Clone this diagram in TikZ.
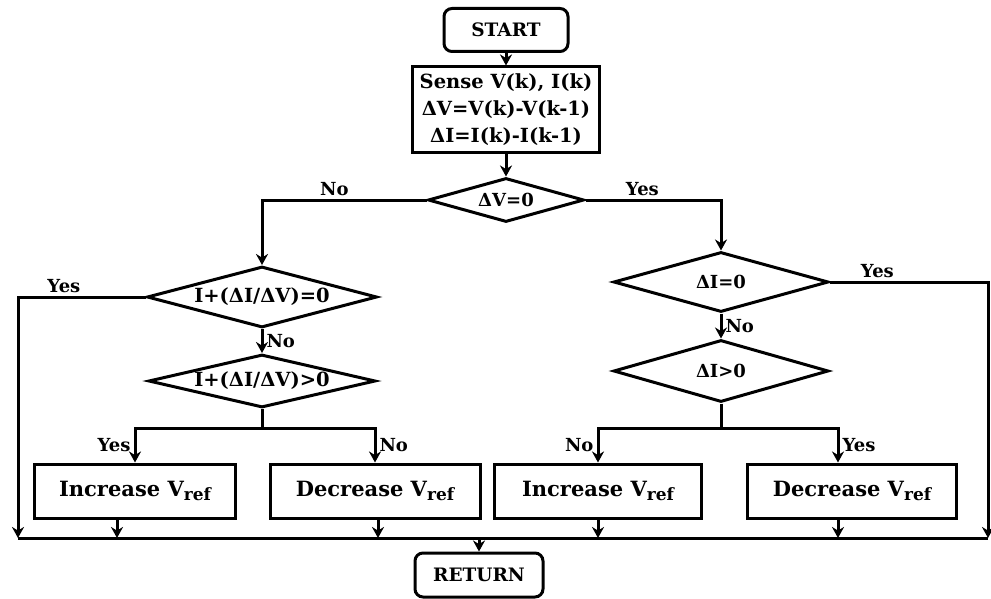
\documentclass[tikz,border=0pt]{standalone}
\usepackage{fontspec}
\setmainfont{DejaVu Serif}
\usetikzlibrary{shapes.geometric, arrows.meta, positioning}

\newcommand{\Vref}{V\raisebox{-0.45ex}{\fontsize{17}{17}\selectfont ref}}

\begin{document}
\begin{tikzpicture}[x=1pt, y=-1pt,
  line width=3pt,
  box/.style={rectangle, draw=black, inner sep=0pt, align=center,
              font=\fontsize{19.5}{27}\selectfont\bfseries},
  actbox/.style={box, font=\fontsize{21}{24}\selectfont\bfseries},
  term/.style={box, rounded corners=8pt, font=\fontsize{18.5}{22}\selectfont\bfseries},
  decision/.style={diamond, draw=black, inner sep=0pt,
              font=\fontsize{18}{22}\selectfont\bfseries},
  arr/.style={-{Stealth[length=11pt, width=12pt]}},
  lbl/.style={font=\fontsize{18}{20}\selectfont\bfseries, inner sep=3pt}
]
\useasboundingbox (0,0) rectangle (991,599);

\node[term, minimum width=124pt, minimum height=43pt] (start) at (506,30) {START};
\node[box, minimum width=187pt, minimum height=86pt] (sense) at (506,110)
  {Sense V(k), I(k)\\ΔV=V(k)-V(k-1)\\ΔI=I(k)-I(k-1)};
\node[decision, minimum width=156pt, minimum height=44pt] (dv) at (506,200) {\makebox[0pt]{ΔV=0}};

% left branch
\node[decision, minimum width=230pt, minimum height=61pt, font=\fontsize{19.5}{22}\selectfont\bfseries]
  (c1) at (262,297) {\makebox[0pt]{I+(ΔI/ΔV)=0}};
\node[decision, minimum width=227pt, minimum height=53pt, font=\fontsize{19.5}{22}\selectfont\bfseries]
  (c2) at (262,381) {\makebox[0pt]{I+(ΔI/ΔV)>0}};
\node[actbox, minimum width=201pt, minimum height=54pt] (inc1) at (135,491) {Increase \Vref};
\node[actbox, minimum width=210pt, minimum height=54pt] (dec1) at (375,491) {Decrease \Vref};

% right branch
\node[decision, minimum width=215pt, minimum height=60pt] (d1) at (721,282) {\makebox[0pt]{ΔI=0}};
\node[decision, minimum width=215pt, minimum height=62pt] (d2) at (721,371) {\makebox[0pt]{ΔI>0}};
\node[actbox, minimum width=207pt, minimum height=54pt] (inc2) at (598,491) {Increase \Vref};
\node[actbox, minimum width=209pt, minimum height=54pt] (dec2) at (852,491) {Decrease \Vref};

\node[term, minimum width=128pt, minimum height=44pt] (ret) at (479,575) {RETURN};

\coordinate (bl) at (18,538);
\coordinate (br) at (988,538);
\coordinate (rt) at (479,538);
\coordinate (j1) at (262,428);
\coordinate (j2) at (721,428);

\draw[arr] (start) -- (sense);
\draw[arr] (sense) -- (dv);
\draw[arr] (dv.west) -| node[lbl, pos=0.28, above] {No} (c1.north);
\draw[arr] (dv.east) -| node[lbl, pos=0.21, above] {Yes} (d1.north);

\draw[arr] (c1.west) -| node[lbl, pos=0.32, above] {Yes} (bl);
\draw[arr] (c1) -- node[lbl, right] {No} (c2);
\draw (c2.south) -- (j1);
\draw[arr] (j1) -| node[lbl, pos=0.75, left] {Yes} (inc1.north);
\draw[arr] (j1) -| node[lbl, pos=0.75, right] {No} (dec1.north);

\draw[arr] (d1.east) -| node[lbl, pos=0.15, above] {Yes} (br);
\draw[arr] (d1) -- node[lbl, right] {No} (d2);
\draw (d2.south) -- (j2);
\draw[arr] (j2) -| node[lbl, pos=0.75, left] {No} (inc2.north);
\draw[arr] (j2) -| node[lbl, pos=0.75, right] {Yes} ([xshift=-14pt]dec2.north);

% return bus
\draw (bl) -- (br);
\draw[arr] ([xshift=-18pt]inc1.south) -- ([xshift=-18pt]inc1.south |- bl);
\draw[arr] ([xshift=3pt]dec1.south) -- ([xshift=3pt]dec1.south |- bl);
\draw[arr] (inc2.south) -- (inc2.south |- bl);
\draw[arr] ([xshift=-14pt]dec2.south) -- ([xshift=-14pt]dec2.south |- bl);
\draw[arr] (rt) -- (ret);

\end{tikzpicture}
\end{document}
